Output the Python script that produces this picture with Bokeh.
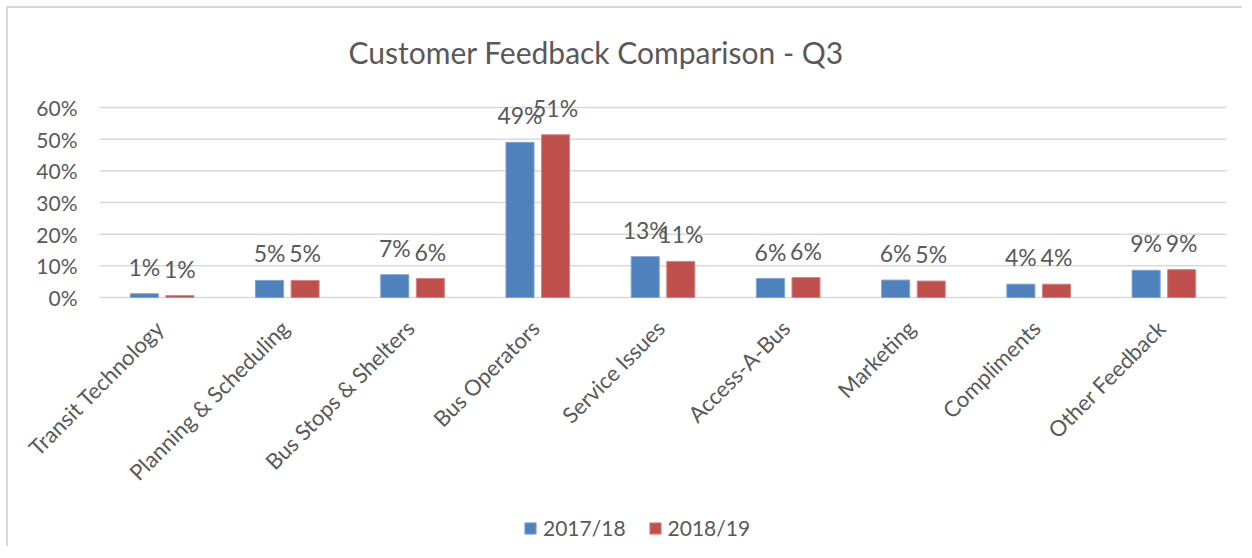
import math
from bokeh.plotting import figure
from bokeh.models import ColumnDataSource, Range1d, Legend, LegendItem, Label
from bokeh.transform import dodge
from bokeh.core.properties import value
from bokeh.embed import file_html
from bokeh.resources import INLINE

categories = ["Transit Technology", "Planning & Scheduling", "Bus Stops & Shelters",
              "Bus Operators", "Service Issues", "Access-A-Bus", "Marketing",
              "Compliments", "Other Feedback"]
series_names = ["2017/18", "2018/19"]
values_2017 = [0.012, 0.054, 0.072, 0.490, 0.129, 0.060, 0.055, 0.042, 0.086]
values_2018 = [0.006, 0.054, 0.060, 0.514, 0.114, 0.063, 0.052, 0.042, 0.088]
y_ticks = [0.0, 0.1, 0.2, 0.3, 0.4, 0.5, 0.6]
title_text = "Customer Feedback Comparison - Q3"

FONT = "Lato"
TXT = "#595959"
BLUE = "#4f81bd"
RED = "#c0504d"
GRID = "#d9d9d9"

# layout constants (pixels within the figure)
FIG_W, FIG_H = 1236, 540
AREA_LEFT, AREA_RIGHT = 91, 1218      # x extent of the category area
AREA_TOP, AREA_BOTTOM = 99, 289       # y of the 60% and 0% gridlines
n = len(categories)
px_per_cat = (AREA_RIGHT - AREA_LEFT) / n
x_start = -AREA_LEFT / px_per_cat
x_end = n + (FIG_W - AREA_RIGHT) / px_per_cat
Y_MAX = y_ticks[-1]
px_per_unit = (AREA_BOTTOM - AREA_TOP) / Y_MAX
y_end = Y_MAX + AREA_TOP / px_per_unit
y_start = -(FIG_H - AREA_BOTTOM) / px_per_unit


def pct(v):
    return "{:.0f}%".format(v * 100)


src = ColumnDataSource(dict(
    xc=[i + 0.5 for i in range(n)],
    cat=categories,
    zero=[0.0] * n,
    v1=values_2017,
    v2=values_2018,
    l1=[pct(v) for v in values_2017],
    l2=[pct(v) for v in values_2018],
))
grid_src = ColumnDataSource(dict(
    y=y_ticks,
    x0=[0.0] * len(y_ticks),
    x1=[float(n)] * len(y_ticks),
    lab=[pct(t) for t in y_ticks],
))

p = figure(width=FIG_W, height=FIG_H, x_range=Range1d(x_start, x_end),
           y_range=Range1d(y_start, y_end), output_backend="svg", toolbar_location=None,
           x_axis_location=None, y_axis_location=None,
           min_border_left=0, min_border_right=0, min_border_top=0, min_border_bottom=0)
p.styles = {"margin-left": "6px", "margin-top": "6px",
            "border-left": "2px solid #d9d9d9", "border-top": "2px solid #d9d9d9"}
p.outline_line_color = None
p.background_fill_color = "white"
p.border_fill_color = "white"
p.xgrid.grid_line_color = None
p.ygrid.grid_line_color = None

# gridlines and y tick labels
p.segment(x0="x0", x1="x1", y0="y", y1="y", source=grid_src,
          line_color=GRID, line_width=1.5)
p.text(x="x0", y="y", text="lab", source=grid_src, x_offset=-22,
       text_align="right", text_baseline="middle",
       text_font=value(FONT), text_font_size="21px", text_color=TXT)

OFF = 0.142
W = 0.224
r1 = p.vbar(x=dodge("xc", -OFF), top="v1", width=W, source=src,
            fill_color=BLUE, line_color="#7da3d6", line_width=1)
r2 = p.vbar(x=dodge("xc", OFF), top="v2", width=W, source=src,
            fill_color=RED, line_color="#d98482", line_width=1)

p.text(x=dodge("xc", -OFF), y="v1", text="l1", source=src,
       text_align="center", text_baseline="alphabetic", y_offset=-27,
       text_font=value(FONT), text_font_size="23px", text_color=TXT)
p.text(x=dodge("xc", OFF), y="v2", text="l2", source=src,
       text_align="center", text_baseline="alphabetic", y_offset=-27,
       text_font=value(FONT), text_font_size="23px", text_color=TXT)

# category labels (rotated 45 degrees, ending at the category centre)
p.text(x="xc", y="zero", text="cat", source=src, angle=math.pi / 4,
       text_align="right", text_baseline="top", x_offset=-12, y_offset=17,
       text_font=value(FONT), text_font_size="22px", text_color=TXT)

# title
p.add_layout(Label(x=340, y=FIG_H - 43, x_units="screen", y_units="screen",
                   text=title_text, text_align="left", text_baseline="alphabetic",
                   text_font=FONT, text_font_size="30px", text_color=TXT))

legend = Legend(items=[LegendItem(label=series_names[0], renderers=[r1]),
                       LegendItem(label=series_names[1], renderers=[r2])],
                orientation="horizontal", location=(515, 8),
                glyph_width=14, glyph_height=14, label_standoff=6, spacing=22,
                padding=0, margin=0, border_line_color=None, background_fill_alpha=0,
                label_text_font=FONT, label_text_font_size="21px", label_text_color=TXT)
p.add_layout(legend)

open("out.html", "w").write(file_html(p, INLINE))
